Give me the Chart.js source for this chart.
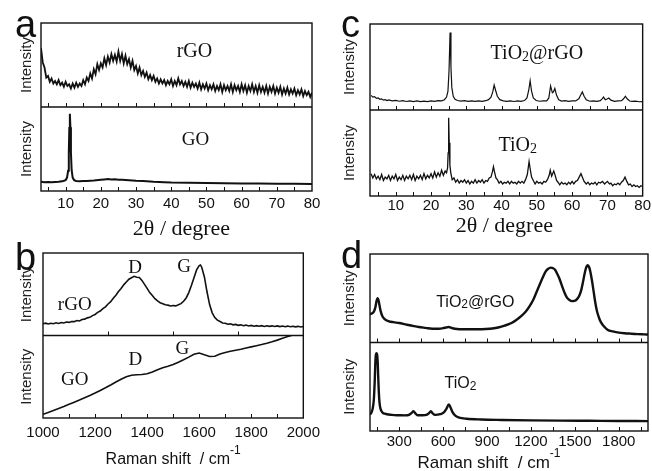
<!DOCTYPE html>
<html>
<head>
<meta charset="utf-8">
<script src="https://cdn.jsdelivr.net/npm/chart.js@4.4.1/dist/chart.umd.min.js"></script>
<style>
  html, body { margin: 0; padding: 0; background: #fff; }
  #wrap { position: relative; width: 652px; height: 471px; overflow: hidden; }
  canvas { position: absolute; }
</style>
</head>
<body>
<div id="wrap">
  <canvas id="panelA" width="326" height="240" style="left:0;top:0"></canvas>
  <canvas id="panelC" width="326" height="240" style="left:326px;top:0"></canvas>
  <canvas id="panelB" width="326" height="236" style="left:0;top:235px"></canvas>
  <canvas id="panelD" width="326" height="236" style="left:326px;top:235px"></canvas>
</div>
<script>
const SANS = '"Liberation Sans", Arial, sans-serif';
const SERIF = '"Liberation Serif", "Times New Roman", serif';
const INK = '#111';

// tick labels and tick marks
const xrdTicks = [10, 20, 30, 40, 50, 60, 70, 80];
const xrdMarks = [5, 10, 15, 20, 25, 30, 35, 40, 45, 50, 55, 60, 65, 70, 75];
const ramanBTicks = [1000, 1200, 1400, 1600, 1800, 2000];
const ramanBMarks = [1100, 1200, 1300, 1400, 1500, 1600, 1700, 1800, 1900];
const ramanBMid = [1250, 1500, 1750];
const ramanDTicks = [300, 600, 900, 1200, 1500, 1800];
const ramanDMarks = [150, 300, 450, 600, 750, 900, 1050, 1200, 1350, 1500, 1650, 1800, 1950];

// (a) XRD, rGO (top) and GO (bottom)  [2theta, intensity]
const xrdRGO = [[3,70],[3.5,53],[4,47],[4.5,35],[5,37],[5.5,30],[6,34],[6.5,28],[7,31],[7.5,27],[8,32],[8.5,26],[9,29],[9.5,24],[10,30],[10.5,25],[11,27],[11.5,22],[12,28],[12.5,23],[13,29],[13.5,24],[14,28],[14.5,25],[15,32],[15.5,27],[16,35],[16.5,31],[17,40],[17.5,34],[18,45],[18.5,39],[19,51],[19.5,44],[20,52],[20.5,47],[21,58],[21.5,50],[22,60],[22.5,53],[23,63],[23.5,55],[24,62],[24.5,54],[25,66],[25.5,55],[26,63],[26.5,52],[27,61],[27.5,51],[28,57],[28.5,47],[29,55],[29.5,44],[30,49],[30.5,40],[31,47],[31.5,38],[32,43],[32.5,36],[33,41],[33.5,33],[34,38],[34.5,32],[35,37],[35.5,30],[36,34],[36.5,28],[37,33],[37.5,28],[38,32],[38.5,26],[39,31],[39.5,27],[40,33],[40.5,25],[41,31],[41.5,26],[42,34],[42.5,27],[43,31],[43.5,25],[44,30],[44.5,24],[45,31],[45.5,23],[46,29],[46.5,24],[47,28],[47.5,22],[48,29],[48.5,21],[49,27],[49.5,22],[50,28],[50.5,20],[51,26],[51.5,21],[52,27],[52.5,19],[53,25],[53.5,20],[54,27],[54.5,18],[55,26],[55.5,20],[56,25],[56.5,19],[57,27],[57.5,18],[58,26],[58.5,20],[59,25],[59.5,18],[60,27],[60.5,19],[61,26],[61.5,17],[62,25],[62.5,19],[63,27],[63.5,18],[64,25],[64.5,17],[65,26],[65.5,18],[66,24],[66.5,17],[67,25],[67.5,16],[68,24],[68.5,18],[69,25],[69.5,16],[70,23],[70.5,17],[71,24],[71.5,15],[72,22],[72.5,16],[73,23],[73.5,15],[74,21],[74.5,16],[75,22],[75.5,14],[76,20],[76.5,15],[77,21],[77.5,13],[78,19],[78.5,14],[79,18],[79.5,12],[80,17]];
const xrdGO = [[3,11],[4,10.5],[5,10.8],[6,10.4],[7,10.8],[8,11],[9,11.5],[9.5,12.2],[10,13],[10.4,16],[10.7,24],[10.9,45],[11.05,75],[11.2,92],[11.35,76],[11.5,46],[11.7,25],[12,16],[12.4,13],[13,12],[14,11.5],[15,11.8],[16,12],[18,12.6],[20,13.4],[21,13.8],[22,14.2],[23,13.8],[24,14],[25,13.5],[26,13.4],[28,12.8],[30,12.2],[32,11.8],[35,11],[38,10.5],[40,10],[45,9.8],[50,9.4],[55,9.2],[60,9],[65,8.9],[70,8.7],[75,8.6],[80,8.4]];

// (c) XRD, TiO2@rGO (top) and TiO2 (bottom)
const xrdTiO2rGO = [[3,17],[3.5,15],[4,15.5],[4.5,13.5],[5,14],[5.5,12.5],[6,13],[6.5,11.5],[7,12],[7.5,11],[8,11.8],[9,10.6],[10,11.2],[11,10.2],[12,10.8],[13,9.9],[14,10.6],[15,9.8],[16,10.5],[17,9.7],[18,10.4],[19,9.8],[20,10.6],[21,10],[22,10.8],[23,10.6],[23.8,12],[24.4,15],[24.8,22],[25.1,45],[25.4,90],[25.65,50],[25.9,26],[26.3,16],[26.8,12.5],[27.5,11],[28.5,10.4],[29.5,10.9],[30.5,10.1],[31.5,10.7],[32.5,10],[33.5,10.6],[34.5,10.1],[35.5,10.8],[36.3,12],[37,15],[37.5,21],[37.9,29],[38.3,23],[38.8,16],[39.5,12],[40.5,10.6],[41.5,10],[42.5,10.6],[43.5,9.9],[44.5,10.5],[45.5,10],[46.5,11],[47.2,14],[47.7,23],[48.1,34],[48.5,22],[49,14],[49.8,11],[50.8,10.2],[51.8,10.7],[52.8,10.5],[53.4,14],[53.9,28],[54.4,20],[54.7,21],[55.1,25],[55.6,17],[56.2,12],[57,10.4],[58,10.8],[59,10],[60,10.6],[61,10.5],[61.9,13],[62.5,18],[62.9,21],[63.4,16],[64,12],[65,10.2],[66,10.7],[67,10],[68,10.8],[68.5,13],[68.9,15],[69.4,12],[69.8,12.5],[70.4,14],[71,11.5],[72,10],[73,10.5],[74,10.8],[74.6,13],[75.1,16],[75.6,13],[76.3,10.5],[77,10],[78,10.4],[79,9.6],[80,9.8]];
const xrdTiO2 = [[3,26],[3.5,21],[4,25],[4.5,20],[5,23],[5.5,19],[6,25],[6.5,18],[7,22],[7.5,20],[8,24],[8.5,18],[9,23],[9.5,20],[10,25],[10.5,18],[11,22],[11.5,19],[12,24],[12.5,18],[13,23],[13.5,20],[14,24],[14.5,19],[15,25],[15.5,18],[16,23],[16.5,20],[17,24],[17.5,19],[18,26],[18.5,20],[19,24],[19.5,21],[20,26],[20.5,21],[21,28],[21.5,22],[22,27],[22.5,23],[23,30],[23.5,24],[24,29],[24.4,27],[24.7,33],[24.85,50],[25,91],[25.15,62],[25.35,36],[25.6,27],[26,19],[26.5,21],[27,16],[27.5,19],[28,15],[28.5,18],[29,16],[29.5,19],[30,15],[30.5,18],[31,14],[31.5,17],[32,15],[32.5,19],[33,15],[33.5,18],[34,16],[34.5,19],[35,15],[35.5,18],[36,17],[36.5,21],[37,22],[37.4,28],[37.7,34],[38,28],[38.4,21],[38.8,19],[39.3,15],[39.8,17],[40.3,14],[40.8,16],[41.3,15],[41.8,17],[42.3,14],[42.8,17],[43.3,15],[43.8,16],[44.3,14],[44.8,17],[45.3,15],[45.8,17],[46.3,15],[46.8,19],[47.3,25],[47.8,40],[48.1,32],[48.5,22],[49,18],[49.5,14],[50,17],[50.5,15],[51,16],[51.5,14],[52,17],[52.5,16],[53,19],[53.5,24],[53.8,30],[54.2,23],[54.8,29],[55.2,24],[55.6,18],[56,16],[56.5,13],[57,16],[57.5,14],[58,15],[58.5,13],[59,16],[59.5,14],[60,17],[60.5,14],[61,17],[61.5,18],[62,22],[62.5,26],[63,21],[63.4,17],[64,14],[64.5,16],[65,13],[65.5,15],[66,14],[66.5,16],[67,13],[67.5,16],[68,15],[68.6,17],[69.2,14],[70,17],[70.6,14],[71,15],[71.5,12],[72,14],[72.5,13],[73,15],[73.5,13],[74,16],[74.5,18],[75,22],[75.5,17],[76,13],[76.5,14],[77,11],[77.5,13],[78,11],[78.5,12],[79,10],[79.5,12],[80,11]];

// (b) Raman, rGO (top) and GO (bottom)  [shift, intensity]
const ramanRGO = [[1000,14.2],[1010,15],[1020,14],[1030,14.8],[1040,14.3],[1050,15.4],[1060,14.6],[1070,15.8],[1080,15.2],[1090,16.3],[1100,15.9],[1110,17],[1120,16.8],[1130,18.2],[1140,17.6],[1150,19.3],[1160,19.8],[1170,21.4],[1180,22],[1190,24.1],[1200,25.5],[1210,28],[1220,29.6],[1230,32.5],[1240,34.8],[1250,38.2],[1260,41],[1270,45.1],[1280,48.8],[1290,53.2],[1300,57],[1310,61.4],[1320,64.8],[1330,68.2],[1340,70],[1350,71.8],[1360,70.6],[1370,70.4],[1380,66.8],[1390,62],[1400,57.2],[1410,52],[1420,48.4],[1430,44.6],[1440,42],[1450,39.8],[1460,38.6],[1470,37.2],[1480,36.8],[1490,35.8],[1500,36.3],[1510,35.9],[1520,37.2],[1530,38.6],[1540,41.5],[1550,45.5],[1560,52],[1570,60.5],[1580,70],[1590,79.5],[1600,84.8],[1605,85.5],[1610,82.5],[1620,71],[1630,53],[1640,37.5],[1650,27.5],[1660,21.8],[1670,18.6],[1680,16.9],[1690,15.2],[1700,14.8],[1710,13.6],[1720,14.1],[1730,12.9],[1740,13.4],[1750,12.3],[1760,12.9],[1770,11.8],[1780,12.6],[1790,11.6],[1800,12.2],[1810,11.3],[1820,12],[1830,11.2],[1840,11.9],[1850,11],[1860,11.8],[1870,11.1],[1880,11.7],[1890,10.9],[1900,11.6],[1910,10.8],[1920,11.5],[1930,10.7],[1940,11.4],[1950,10.6],[1960,11.2],[1970,10.5],[1980,11.1],[1990,10.4],[2000,10.9]];
const ramanGO = [[1000,4.5],[1020,6.8],[1040,9.2],[1060,11.6],[1080,14],[1100,16.6],[1120,19.2],[1140,21.8],[1160,24.6],[1180,27.2],[1200,30.2],[1220,33.4],[1240,36.6],[1260,40],[1280,43.6],[1300,47],[1320,50],[1340,51.8],[1360,52.4],[1380,52.8],[1400,53.6],[1420,55.8],[1440,58.6],[1460,61],[1480,62.8],[1500,64.8],[1520,67.6],[1540,70.6],[1560,73.8],[1580,77.2],[1600,78.8],[1620,76.6],[1640,74.6],[1660,74.8],[1680,77.6],[1700,79.4],[1720,80.8],[1740,82.2],[1760,83.4],[1780,84.8],[1800,86.2],[1820,87.6],[1840,89],[1860,90.6],[1880,92.4],[1900,94.4],[1920,96.8],[1940,98.8],[1955,100]];

// (d) Raman, TiO2@rGO (top) and TiO2 (bottom)
const ramanTiO2rGO = [[100,32],[115,33],[127,35],[137,40],[145,47],[152,50],[158,48],[165,42],[172,36],[184,30],[200,26.5],[230,24],[260,23],[300,22],[342,20.5],[400,18.5],[433,17.5],[480,16.5],[524,15.6],[570,15.6],[600,16.2],[620,17],[637,17.5],[655,16.6],[680,15.6],[750,15],[800,15],[863,15],[920,15.5],[976,17],[1020,19],[1067,22],[1100,25.5],[1135,30],[1165,35],[1191,41],[1215,48],[1237,56.5],[1260,65.5],[1282,74],[1300,80],[1316,83],[1335,84.6],[1350,84],[1366,82],[1380,77.5],[1395,72],[1412,64],[1429,56.5],[1445,51],[1463,48],[1480,46.8],[1497,47],[1515,49],[1531,53],[1545,60],[1554,67],[1566,77],[1576,84],[1588,87.3],[1598,85],[1606,80],[1617,70],[1628,58],[1640,45],[1651,35.5],[1665,28],[1678,23],[1700,18],[1723,14.5],[1760,12.5],[1791,11.5],[1840,10.5],[1882,10],[1930,9.5],[1973,9.2],[2000,9]];
const ramanTiO2 = [[100,18.7],[110,21],[118,25],[126,35],[132,55],[136,75],[140,86],[144,88],[148,87],[152,80],[156,62],[160,45],[165,32],[172,25],[185,21],[200,19.5],[250,18.2],[300,17.8],[340,17.6],[370,18.5],[385,20.5],[397,22.5],[410,20],[425,17.8],[460,17.8],[490,18.6],[505,20.5],[516,22.5],[528,20],[545,18.2],[580,19],[605,21],[622,25],[639,30],[652,26],[665,21],[685,17],[710,15],[760,13.8],[860,13],[1000,12.5],[1200,12],[1400,11.7],[1600,11.5],[1800,11.3],[2000,11.2]];

function drawParts(ctx, parts, cx, cy, size, family) {
  let total = 0;
  const items = parts.map(p => {
    const s = (p.sub || p.sup) ? Math.round(size * 0.72) : size;
    ctx.font = s + 'px ' + family;
    const w = ctx.measureText(p.t).width;
    total += w;
    return { p, s, w };
  });
  let x = cx - total / 2;
  ctx.textAlign = 'left';
  ctx.textBaseline = 'alphabetic';
  const base = cy + size * 0.35;
  items.forEach(({ p, s, w }) => {
    ctx.font = s + 'px ' + family;
    let y = base;
    if (p.sub) y += size * 0.1;
    if (p.sup) y -= size * 0.62;
    ctx.fillText(p.t, x, y);
    x += w;
  });
}

// frame, inner tick marks and text of one two-row panel
const panelPlugin = {
  id: 'panel',
  afterDatasetsDraw(chart, args, o) {
    const ctx = chart.ctx;
    const area = chart.chartArea;
    const x = chart.scales.x, yTop = chart.scales.yTop, yBot = chart.scales.yBot;
    ctx.save();
    ctx.strokeStyle = INK;
    ctx.fillStyle = INK;
    ctx.lineWidth = 1.4;
    ctx.strokeRect(area.left, area.top, area.right - area.left, area.bottom - area.top);
    ctx.beginPath();
    ctx.moveTo(area.left, yTop.bottom);
    ctx.lineTo(area.right, yTop.bottom);
    ctx.stroke();

    ctx.lineWidth = 1;
    const marks = (vals, edge) => vals.forEach(v => {
      const px = Math.round(x.getPixelForValue(v)) + 0.5;
      ctx.beginPath();
      ctx.moveTo(px, edge);
      ctx.lineTo(px, edge - 4);
      ctx.stroke();
    });
    marks(o.midMarks, yTop.bottom);
    marks(o.bottomMarks, area.bottom);

    o.labels.forEach(l => {
      const ys = l.row === 'top' ? yTop : yBot;
      drawParts(ctx, l.parts, x.getPixelForValue(l.x), ys.getPixelForValue(l.y), l.size, l.family);
    });

    ctx.font = '15px ' + SANS;
    ctx.fillStyle = '#222';
    ctx.textAlign = 'center';
    ctx.textBaseline = 'middle';
    [yTop, yBot].forEach(s => {
      ctx.save();
      ctx.translate(area.left - o.intensityDx, (s.top + s.bottom) / 2);
      ctx.rotate(-Math.PI / 2);
      ctx.fillText('Intensity', 0, 0);
      ctx.restore();
    });

    ctx.fillStyle = INK;
    const t = o.title;
    drawParts(ctx, t.parts, (area.left + area.right) / 2 + t.dx, area.bottom + t.dy, t.size, t.family);

    ctx.font = '38px ' + SANS;
    ctx.textAlign = 'left';
    ctx.textBaseline = 'alphabetic';
    ctx.fillText(o.letter, o.letterX, o.letterY);
    ctx.restore();
  }
};

function makePanel(id, p) {
  const line = (data, axis, width) => ({
    data, yAxisID: axis, borderColor: INK, borderWidth: width, pointRadius: 0, fill: false,
    tension: p.smooth ? 0.4 : 0, cubicInterpolationMode: p.smooth ? 'monotone' : 'default'
  });
  return new Chart(document.getElementById(id), {
    type: 'line',
    data: { datasets: [line(p.top, 'yTop', p.lineTop), line(p.bottom, 'yBot', p.lineBottom)] },
    options: {
      responsive: false,
      animation: false,
      devicePixelRatio: 1,
      layout: { padding: p.padding },
      plugins: {
        legend: { display: false },
        tooltip: { enabled: false },
        panel: p.panel
      },
      scales: {
        x: {
          type: 'linear',
          min: p.xMin,
          max: p.xMax,
          afterBuildTicks: s => { s.ticks = p.ticks.map(v => ({ value: v })); },
          afterFit: s => { s.height = p.xHeight; },
          grid: { display: false, drawTicks: false },
          border: { display: false },
          ticks: {
            color: INK, padding: p.tickPad, autoSkip: false, maxRotation: 0,
            font: { family: SANS, size: 15 },
            callback: v => String(v)
          }
        },
        yTop: { type: 'linear', position: 'left', display: false, min: 0, max: 100, stack: 'rows', stackWeight: 1, weight: 1 },
        yBot: { type: 'linear', position: 'left', display: false, min: 0, max: 100, stack: 'rows', stackWeight: 1, weight: 0 }
      }
    },
    plugins: [panelPlugin]
  });
}

const tio2rgo = [{ t: 'TiO' }, { t: '2', sub: true }, { t: '@rGO' }];
const tio2 = [{ t: 'TiO' }, { t: '2', sub: true }];

makePanel('panelA', {
  top: xrdRGO, bottom: xrdGO, lineTop: 1.8, lineBottom: 2, smooth: false,
  xMin: 3, xMax: 80, ticks: xrdTicks, xHeight: 45, tickPad: 4,
  padding: { left: 41, top: 23, right: 14, bottom: 4 },
  panel: {
    midMarks: xrdMarks, bottomMarks: xrdMarks, intensityDx: 14,
    letter: 'a', letterX: 15, letterY: 37,
    title: { parts: [{ t: '2\u03B8 / degree' }], dx: 5, dy: 36, size: 22, family: SERIF },
    labels: [
      { parts: [{ t: 'rGO' }], x: 46.6, y: 68, row: 'top', size: 20, family: SERIF },
      { parts: [{ t: 'GO' }], x: 46.9, y: 63, row: 'bottom', size: 19, family: SERIF }
    ]
  }
});

makePanel('panelC', {
  top: xrdTiO2rGO, bottom: xrdTiO2, lineTop: 1.2, lineBottom: 1.3, smooth: false,
  xMin: 2.7, xMax: 80, ticks: xrdTicks, xHeight: 40, tickPad: 1,
  padding: { left: 44, top: 24, right: 7, bottom: 4 },
  panel: {
    midMarks: xrdMarks, bottomMarks: xrdMarks, intensityDx: 20,
    letter: 'c', letterX: 15, letterY: 37,
    title: { parts: [{ t: '2\u03B8 / degree' }], dx: -2, dy: 28, size: 22, family: SERIF },
    labels: [
      { parts: tio2rgo, x: 50, y: 67, row: 'top', size: 20, family: SERIF },
      { parts: tio2, x: 44.6, y: 60.6, row: 'bottom', size: 20, family: SERIF }
    ]
  }
});

makePanel('panelB', {
  top: ramanRGO, bottom: ramanGO, lineTop: 1.6, lineBottom: 1.6, smooth: false,
  xMin: 1000, xMax: 2000, ticks: ramanBTicks, xHeight: 40, tickPad: 6,
  padding: { left: 43, top: 18, right: 21, bottom: 13 },
  panel: {
    midMarks: ramanBMid, bottomMarks: ramanBMarks, intensityDx: 16,
    letter: 'b', letterX: 15, letterY: 35,
    title: { parts: [{ t: 'Raman shift  / cm' }, { t: '-1', sup: true }], dx: 0, dy: 40, size: 16, family: SANS },
    labels: [
      { parts: [{ t: 'D' }], x: 1354, y: 84, row: 'top', size: 19, family: SERIF },
      { parts: [{ t: 'G' }], x: 1542, y: 85, row: 'top', size: 19, family: SERIF },
      { parts: [{ t: 'rGO' }], x: 1122, y: 39, row: 'top', size: 19, family: SERIF },
      { parts: [{ t: 'D' }], x: 1355, y: 72.5, row: 'bottom', size: 19, family: SERIF },
      { parts: [{ t: 'G' }], x: 1535, y: 86, row: 'bottom', size: 19, family: SERIF },
      { parts: [{ t: 'GO' }], x: 1122, y: 47.5, row: 'bottom', size: 19, family: SERIF }
    ]
  }
});

makePanel('panelD', {
  top: ramanTiO2rGO, bottom: ramanTiO2, lineTop: 2.4, lineBottom: 2.4, smooth: true,
  xMin: 100, xMax: 2000, ticks: ramanDTicks, xHeight: 36, tickPad: 2,
  padding: { left: 44, top: 19, right: 4, bottom: 4 },
  panel: {
    midMarks: ramanDMarks, bottomMarks: ramanDMarks, intensityDx: 20,
    letter: 'd', letterX: 15, letterY: 33,
    title: { parts: [{ t: 'Raman shift  / cm' }, { t: '-1', sup: true }], dx: -20, dy: 31, size: 17, family: SANS },
    labels: [
      { parts: tio2rgo, x: 820, y: 47, row: 'top', size: 16, family: SANS },
      { parts: tio2, x: 718, y: 55, row: 'bottom', size: 16, family: SANS }
    ]
  }
});
</script>
</body>
</html>
